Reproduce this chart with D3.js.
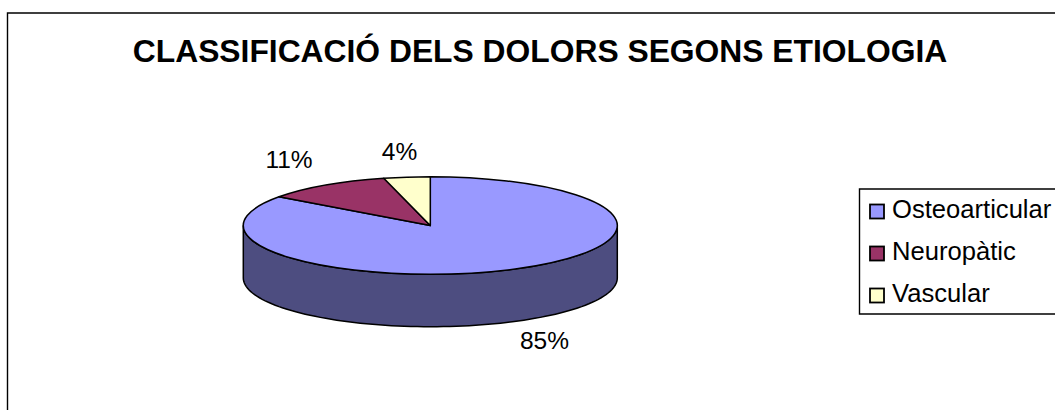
<!DOCTYPE html>
<html>
<head>
<meta charset="utf-8">
<script src="https://cdn.jsdelivr.net/npm/d3@7/dist/d3.min.js"></script>
<style>
  html, body { margin: 0; padding: 0; background: #fff; }
  svg { display: block; }
  text { font-family: "Liberation Sans", Arial, sans-serif; fill: #000; }
</style>
</head>
<body>
<svg id="chart" width="1055" height="410"></svg>
<script>
const chartTitle = "CLASSIFICACIÓ DELS DOLORS SEGONS ETIOLOGIA";
const categories = ["Osteoarticular", "Neuropàtic", "Vascular"];
const shares = [85, 11, 4];
const sliceColors = ["#9999FF", "#993366", "#FFFFCC"];
const wallColor = "#4D4D80";

const svg = d3.select("#chart");
const centerX = 430.3, centerY = 225.5, radiusX = 187, radiusY = 48.8, depth = 52.4;

// Outer frame: open on the right and bottom where it runs off the page
svg.append("path")
  .attr("d", "M7.5,410V13H1055")
  .attr("fill", "none").attr("stroke", "#000").attr("stroke-width", 1.4);

svg.append("text")
  .attr("x", 540).attr("y", 61.5)
  .attr("text-anchor", "middle")
  .attr("font-size", 31.8).attr("font-weight", "bold")
  .text(chartTitle);

const pieGen = d3.pie().sort(null).startAngle(0).endAngle(2 * Math.PI);
const slices = pieGen(shares);
const arcGen = d3.arc().innerRadius(0).outerRadius(radiusX);

// Visible front of the disc: the lower half of the rim, extruded downward
const rimAngles = d3.range(90, 270.5, 2).map(d => d * Math.PI / 180);
const wall = d3.area()
  .x(a => centerX + radiusX * Math.sin(a))
  .y0(a => centerY - radiusY * Math.cos(a))
  .y1(a => centerY - radiusY * Math.cos(a) + depth);
svg.append("path")
  .attr("d", wall(rimAngles))
  .attr("fill", wallColor).attr("stroke", "#000").attr("stroke-width", 1.5);

// Tilted top face: circular arcs squashed vertically
svg.append("g")
  .attr("transform", `translate(${centerX},${centerY}) scale(1,${radiusY / radiusX})`)
  .selectAll("path").data(slices).join("path")
  .attr("d", arcGen)
  .attr("fill", (d, i) => sliceColors[i])
  .attr("stroke", "#000").attr("stroke-width", 1.5)
  .attr("stroke-linejoin", "round")
  .attr("vector-effect", "non-scaling-stroke");

const labelSpots = [[544.5, 349], [289, 168], [399.5, 160]];
svg.selectAll("text.share").data(slices).join("text")
  .attr("class", "share")
  .attr("x", (d, i) => labelSpots[i][0])
  .attr("y", (d, i) => labelSpots[i][1])
  .attr("text-anchor", "middle")
  .attr("font-size", 24.5)
  .text(d => d.data + "%");

// Legend box, clipped by the right page edge
const legend = svg.append("g");
legend.append("path")
  .attr("d", "M1055,189H859.5V314H1055")
  .attr("fill", "#fff").attr("stroke", "#000").attr("stroke-width", 1.4);
const legendY = d3.scalePoint().domain(categories).range([218, 302]);
const rows = legend.selectAll("g.row").data(categories).join("g")
  .attr("class", "row")
  .attr("transform", d => `translate(0,${legendY(d)})`);
rows.append("rect")
  .attr("x", 870).attr("y", -13.5).attr("width", 14).attr("height", 14)
  .attr("fill", (d, i) => sliceColors[i])
  .attr("stroke", "#000").attr("stroke-width", 1.8);
rows.append("text")
  .attr("x", 892).attr("y", 0)
  .attr("font-size", 25.6)
  .text(d => d);
</script>
</body>
</html>
